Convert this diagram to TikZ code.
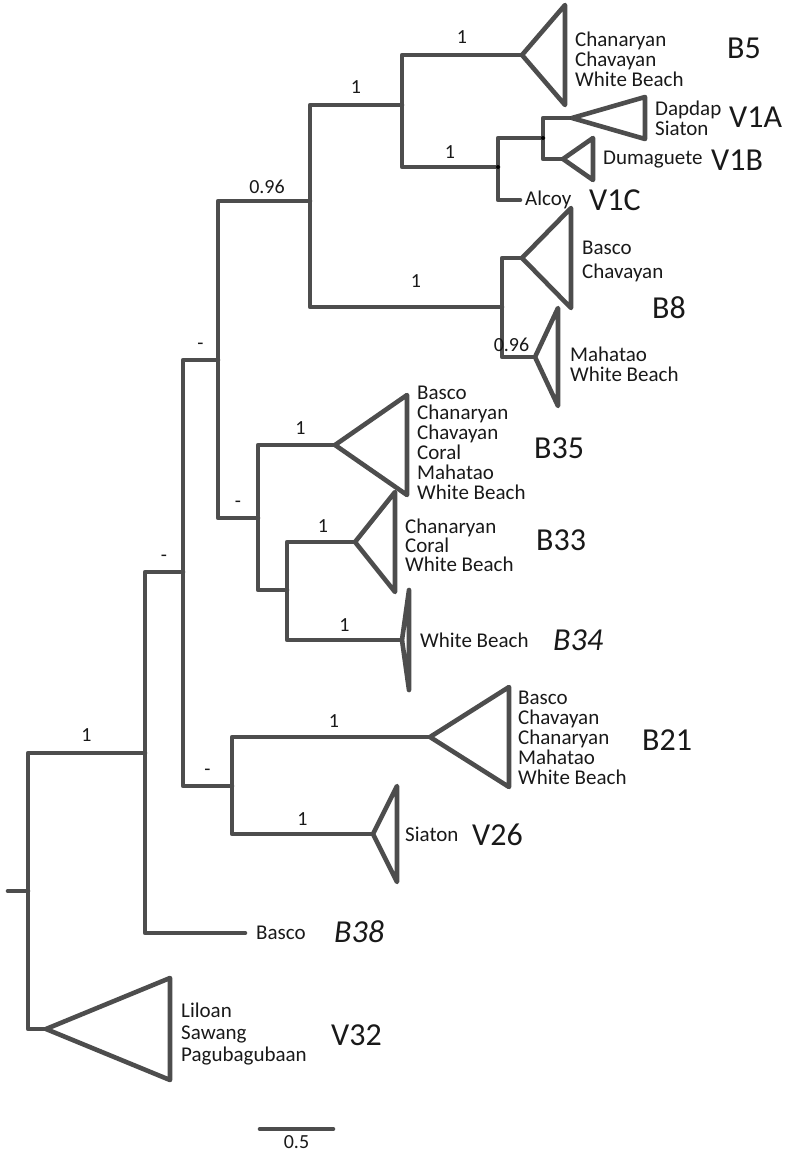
\documentclass[tikz,border=0pt]{standalone}
\usepackage{fontspec}
\setmainfont{Carlito}
\usetikzlibrary{positioning}
\definecolor{treegray}{RGB}{77,77,77}
\definecolor{labelblack}{RGB}{25,25,25}

% collapsed clade: apex, width, half height
\newcommand{\collapsed}[3]{%
  \draw[branch] (#1) -- ++(#2,-#3) -- ++(0,2*#3) -- cycle;}

\begin{document}
\begin{tikzpicture}[x=1pt,y=-1pt,
  branch/.style={treegray,line width=4.6pt,line join=round,line cap=round},
  support/.style={font=\fontsize{20}{20}\selectfont,text=labelblack,inner sep=0pt},
  taxa/.style={font=\fontsize{21}{20}\selectfont,text=labelblack,inner sep=0pt,anchor=west,align=left},
  clade/.style={font=\fontsize{32}{32}\selectfont,text=labelblack,inner sep=0pt,anchor=west}]
  \useasboundingbox (0,0) rectangle (788,1153);
  % internal nodes
  \coordinate (rootstub) at (8,891);
  \coordinate (root) at (28,891);
  \coordinate (nA) at (145,753);
  \coordinate (nB) at (183,572);
  \coordinate (nC) at (218,360);
  \coordinate (nD) at (310,201);
  \coordinate (nF) at (402,105);
  \coordinate (nV1) at (498,167);
  \coordinate (nV1AB) at (543,138);
  \coordinate (nB8) at (502,307);
  \coordinate (nE) at (258,518);
  \coordinate (nE2) at (287,590);
  \coordinate (nH) at (232,786);
  % tips
  \coordinate (tB5) at (522,55);
  \coordinate (tV1A) at (572,118);
  \coordinate (tV1B) at (563,159);
  \coordinate (tV1C) at (520,200);
  \coordinate (tB8a) at (522,258);
  \coordinate (tB8b) at (535,357);
  \coordinate (tB35) at (335,445);
  \coordinate (tB33) at (355,542);
  \coordinate (tB34) at (402,640);
  \coordinate (tB21) at (430,737);
  \coordinate (tV26) at (373,834);
  \coordinate (tB38) at (245,933);
  \coordinate (tV32) at (46,1029);
  % branches
  \draw[branch] (rootstub) -- (root);
  \draw[branch] (nA) -| node[support,pos=0.25,above=9pt] (sA) {1} (root) |- (tV32);
  \draw[branch] (nB) -| node[support,pos=0.25,above=8pt] (sB) {-} (nA) |- (tB38);
  \draw[branch] (nC) -| node[support,pos=0.25,above=8pt] (sC) {-} (nB)
    |- node[support,pos=0.75,above=8pt] (sH) {-} (nH);
  \draw[branch] (nD) -| node[support,pos=0.25,above=5pt,xshift=3pt] (sD) {0.96} (nC)
    |- node[support,pos=0.75,above=8pt] (sE) {-} (nE);
  \draw[branch] (nF) -| node[support,pos=0.25,above=9pt] (sF) {1} (nD)
    |- node[support,pos=0.75,above=17pt,xshift=10pt] (sB8) {1} (nB8);
  \draw[branch] (tB5) -| node[support,pos=0.25,above=9pt] (sB5) {1} (nF)
    |- node[support,pos=0.75,above=6pt] (sV1) {1} (nV1);
  \draw[branch] (nV1AB) -| (nV1) |- (tV1C);
  \draw[branch] (tV1A) -| (nV1AB) |- (tV1B);
  \draw[branch] (tB8a) -| (nB8) |- node[support,pos=0.75,above=3pt,xshift=-7pt] (sB8b) {0.96} (tB8b);
  \draw[branch] (tB35) -| node[support,pos=0.25,above=8pt,xshift=4pt] (sB35) {1} (nE) |- (nE2);
  \draw[branch] (tB33) -| node[support,pos=0.25,above=7pt,xshift=2pt] (sB33) {1} (nE2)
    |- node[support,pos=0.75,above=6pt] (sB34) {1} (tB34);
  \draw[branch] (tB21) -| node[support,pos=0.25,above=7pt,xshift=3pt] (sB21) {1} (nH)
    |- node[support,pos=0.75,above=6pt] (sV26) {1} (tV26);
  \foreach \n in {nV1,nV1AB,tV1A,tV1B}
    \fill[black] (\n) circle (2pt);
  % collapsed clades
  \collapsed{tB5}{43}{50}
  \collapsed{tV1A}{73}{21}
  \collapsed{tV1B}{30}{21}
  \collapsed{tB8a}{49}{50}
  \collapsed{tB8b}{23}{49}
  \collapsed{tB35}{72}{50}
  \collapsed{tB33}{40}{50}
  \collapsed{tB34}{7}{50}
  \collapsed{tB21}{79}{50}
  \collapsed{tV26}{24}{48}
  \collapsed{tV32}{124}{51}
  % tip labels
  \node[taxa] (xB5) at (575,59) {Chanaryan\\Chavayan\\White Beach};
  \node[taxa] (xV1A) at (655,118) {Dapdap\\Siaton};
  \node[taxa] (xV1B) at (603,160) {Dumaguete};
  \node[taxa] (xV1C) at (525,200) {Alcoy};
  \node[taxa] (xB8a) at (582,261) {Basco\\[4pt]Chavayan};
  \node[taxa] (xB8b) at (570,364) {Mahatao\\White Beach};
  \node[taxa] (xB35) at (417,443) {Basco\\Chanaryan\\Chavayan\\Coral\\Mahatao\\White Beach};
  \node[taxa] (xB33) at (405,545) {Chanaryan\\[-1pt]Coral\\[-1pt]White Beach};
  \node[taxa] (xB34) at (420,640) {White Beach};
  \node[taxa] (xB21) at (518,738) {Basco\\Chavayan\\Chanaryan\\Mahatao\\White Beach};
  \node[taxa] (xV26) at (405,834) {Siaton};
  \node[taxa] (xB38) at (256,933) {Basco};
  \node[taxa] (xV32) at (181,1034) {Liloan\\[2pt]Sawang\\[2pt]Pagubagubaan};
  % clade names
  \node[clade] (cB5) at (727,48) {B5};
  \node[clade] (cV1A) at (729,117) {V1A};
  \node[clade] (cV1B) at (711,160) {V1B};
  \node[clade] (cV1C) at (589,200) {V1C};
  \node[clade] (cB8) at (652,308) {B8};
  \node[clade] (cB35) at (534,448) {B35};
  \node[clade] (cB33) at (536,540) {B33};
  \node[clade] (cB34) at (553,640) {\itshape B34};
  \node[clade] (cB21) at (642,740) {B21};
  \node[clade] (cV26) at (472,835) {V26};
  \node[clade] (cB38) at (334,932) {\itshape B38};
  \node[clade] (cV32) at (331,1035) {V32};
  % scale bar
  \coordinate (barL) at (260,1129);
  \coordinate (barR) at (333,1129);
  \draw[branch] (barL) -- node[support,below=4pt] (sbar) {0.5} (barR);
\end{tikzpicture}
\end{document}
